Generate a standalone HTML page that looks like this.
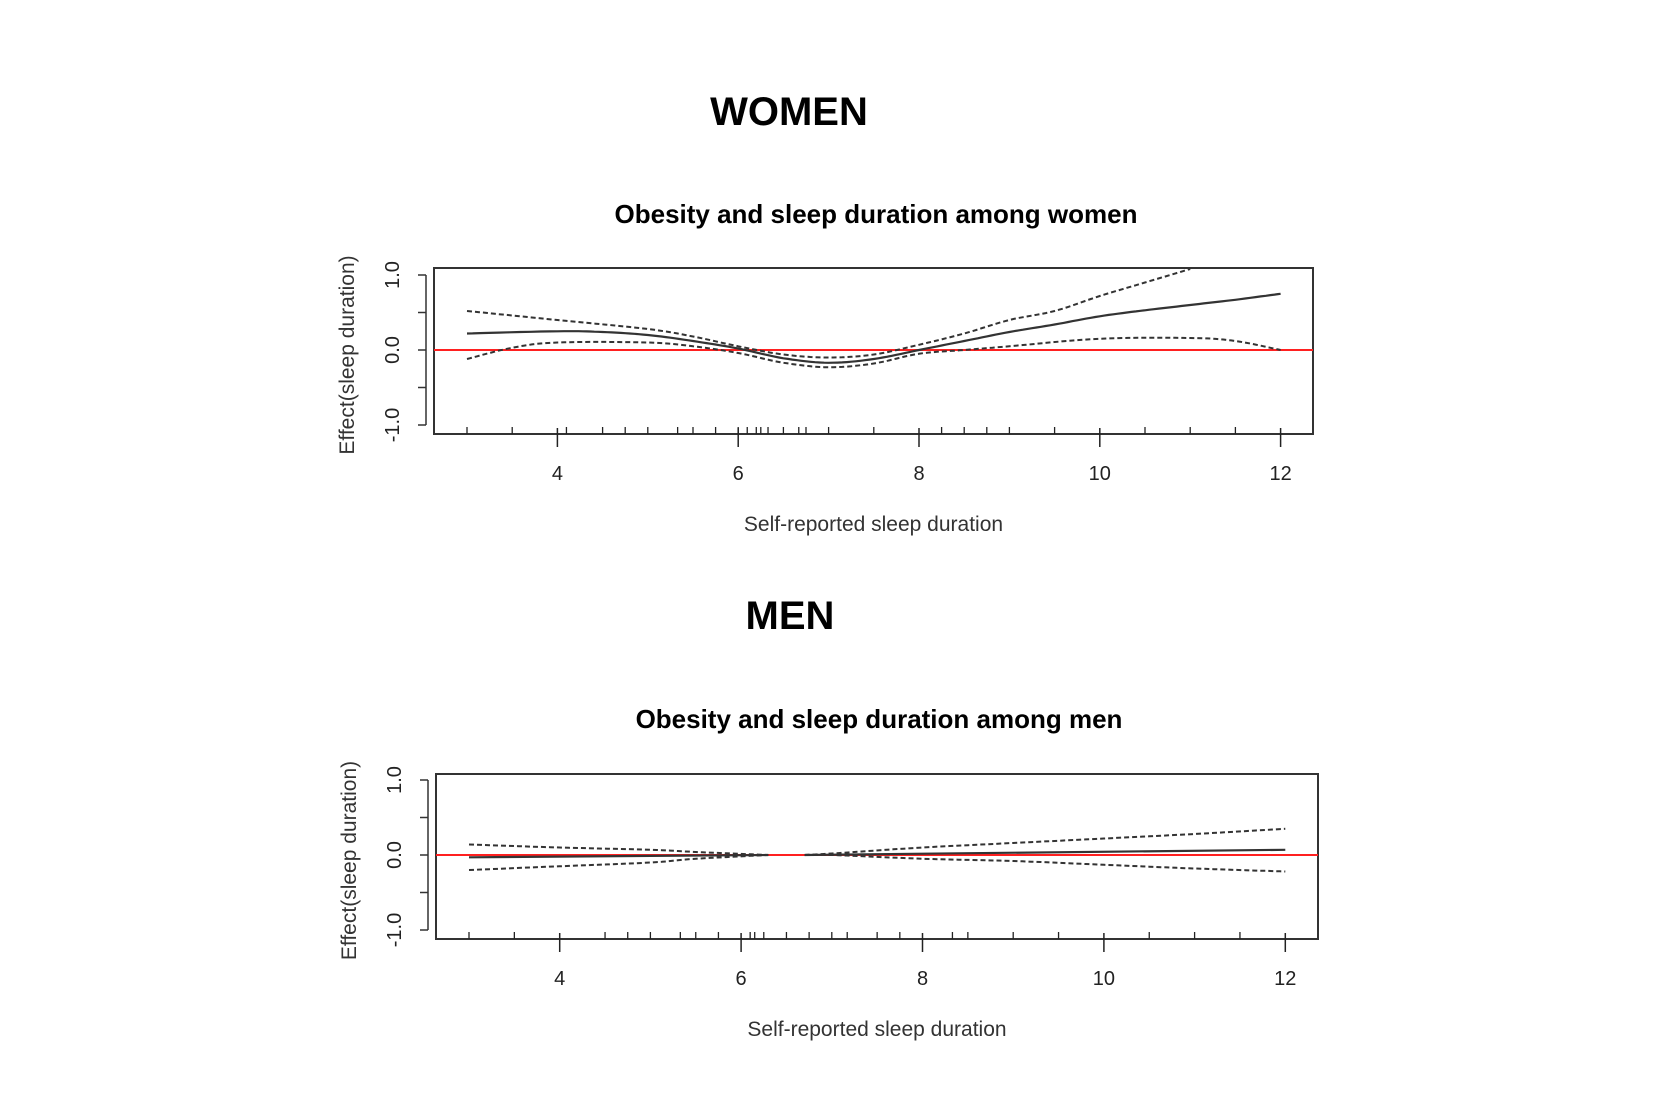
<!DOCTYPE html>
<html><head><meta charset="utf-8"><style>
body{margin:0;background:#fff;}
svg{display:block;}
text{font-family:"Liberation Sans",Arial,sans-serif;}
</style></head><body>
<svg width="1658" height="1108" viewBox="0 0 1658 1108" xmlns="http://www.w3.org/2000/svg">
<rect width="1658" height="1108" fill="#fff"/>
<text x="789" y="125" font-size="40" font-weight="bold" text-anchor="middle">WOMEN</text>
<text x="876" y="223" font-size="26" font-weight="bold" text-anchor="middle">Obesity and sleep duration among women</text>
<text x="790" y="629" font-size="40" font-weight="bold" text-anchor="middle">MEN</text>
<text x="879" y="728" font-size="26" font-weight="bold" text-anchor="middle">Obesity and sleep duration among men</text>
<g id="plots"></g>
</svg>
<script>
const NS="http://www.w3.org/2000/svg";
const g=document.getElementById('plots');
function el(t,a,txt){const e=document.createElementNS(NS,t);for(const k in a)e.setAttribute(k,a[k]);if(txt!==undefined)e.textContent=txt;g.appendChild(e);return e;}
function plot(P){
  const X=x=>P.x3+(x-3)*P.sx, Y=y=>P.y0-y*P.sy;
  el('rect',{x:P.l,y:P.t,width:P.r-P.l,height:P.b-P.t,fill:'none',stroke:'#333','stroke-width':2});
  el('line',{x1:P.l-8,y1:Y(1),x2:P.l-8,y2:Y(-1),stroke:'#333','stroke-width':1.5});
  [1,0.5,0,-0.5,-1].forEach(v=>{el('line',{x1:P.l-16,y1:Y(v),x2:P.l-8,y2:Y(v),stroke:'#333','stroke-width':1.5});});
  [[1,'1.0'],[0,'0.0'],[-1,'-1.0']].forEach(([v,s])=>{el('text',{x:0,y:0,'font-size':20,'text-anchor':'middle',transform:`translate(${P.l-35},${Y(v)}) rotate(-90)`,fill:'#222'},s);});
  el('text',{x:0,y:0,'font-size':21,'text-anchor':'middle',transform:`translate(${P.l-80},${(P.t+P.b)/2+4}) rotate(-90)`,fill:'#333'},'Effect(sleep duration)');
  [4,6,8,10,12].forEach(v=>{el('line',{x1:X(v),y1:P.b-6,x2:X(v),y2:P.b+13,stroke:'#222','stroke-width':1.5});
    el('text',{x:X(v),y:P.b+46,'font-size':20,'text-anchor':'middle',fill:'#222'},String(v));});
  P.rug.forEach(v=>el('line',{x1:X(v),y1:P.b,x2:X(v),y2:P.b-7,stroke:'#222','stroke-width':1.3}));
  el('text',{x:(P.l+P.r)/2,y:P.b+97,'font-size':21,'text-anchor':'middle',fill:'#333'},'Self-reported sleep duration');
  el('line',{x1:P.l,y1:Y(0),x2:P.r,y2:Y(0),stroke:'#ff2020','stroke-width':2});
  const path=(pts)=>{let d='';pts.forEach((p,i)=>{d+=(i?'L':'M')+X(p[0]).toFixed(1)+','+Y(p[1]).toFixed(1);});return d;};
  P.fit.forEach(s=>el('path',{d:path(s),fill:'none',stroke:'#333','stroke-width':2.2}));
  P.ci.forEach(s=>el('path',{d:path(s),fill:'none',stroke:'#333','stroke-width':2,'stroke-dasharray':'5,3'}));
}
function smooth(pts){
  const out=[];for(let i=0;i<pts.length-1;i++){const p0=pts[Math.max(0,i-1)],p1=pts[i],p2=pts[i+1],p3=pts[Math.min(pts.length-1,i+2)];
    for(let t=0;t<1;t+=0.1){const t2=t*t,t3=t2*t;
      const f=(a,b,c,d)=>0.5*((2*b)+(-a+c)*t+(2*a-5*b+4*c-d)*t2+(-a+3*b-3*c+d)*t3);
      out.push([f(p0[0],p1[0],p2[0],p3[0]),f(p0[1],p1[1],p2[1],p3[1])]);}}
  out.push(pts[pts.length-1]);return out;}
plot({l:434,r:1313,t:268,b:434,x3:467,sx:90.4,y0:350,sy:75,
 rug:[3,3.5,4.1,4.5,4.75,5,5.33,5.5,5.75,6,6.1,6.2,6.25,6.33,6.5,6.67,6.75,7,7.5,8.25,8.5,8.75,9,9.5,10.5,11,11.5],
 fit:[smooth([[3,0.22],[4,0.25],[4.5,0.24],[5,0.2],[5.5,0.12],[6,0.02],[6.5,-0.11],[7,-0.17],[7.5,-0.12],[8,0.0],[8.5,0.12],[9,0.24],[9.5,0.34],[10,0.45],[10.5,0.53],[11,0.6],[11.5,0.67],[12,0.75]])],
 ci:[smooth([[3,0.52],[4,0.4],[5,0.28],[5.5,0.18],[6,0.05],[6.5,-0.06],[7,-0.1],[7.5,-0.06],[8,0.07],[8.5,0.22],[9,0.4],[9.5,0.52],[10,0.72],[10.5,0.9],[11,1.08]]),
     smooth([[3,-0.12],[3.5,0.03],[4,0.1],[5,0.1],[5.5,0.05],[6,-0.04],[6.5,-0.17],[7,-0.23],[7.5,-0.18],[8,-0.05],[8.5,0.0],[9,0.05],[10,0.15],[11,0.16],[11.5,0.12],[12,0.0]])]});
plot({l:436,r:1318,t:774,b:939,x3:469,sx:90.7,y0:855,sy:75,
 rug:[3,3.5,4.5,4.75,5,5.33,5.5,5.75,6.1,6.15,6.25,6.5,6.75,7,7.17,7.5,7.75,8.33,8.5,9,9.5,10.5,11,11.5],
 fit:[[[3,-0.03],[6.3,0.0]],[[6.7,0.0],[12,0.07]]],
 ci:[smooth([[3,0.14],[4,0.1],[5,0.07],[5.5,0.04],[6.3,0.0]]),smooth([[3,-0.2],[4,-0.15],[5,-0.1],[5.5,-0.05],[6.3,0.0]]),
     smooth([[6.7,0.0],[7,0.02],[8,0.1],[9,0.16],[10,0.22],[11,0.28],[12,0.35]]),smooth([[6.7,0.0],[7,0.0],[8,-0.05],[9,-0.08],[10,-0.13],[11,-0.18],[12,-0.22]])]});
</script>
</body></html>
